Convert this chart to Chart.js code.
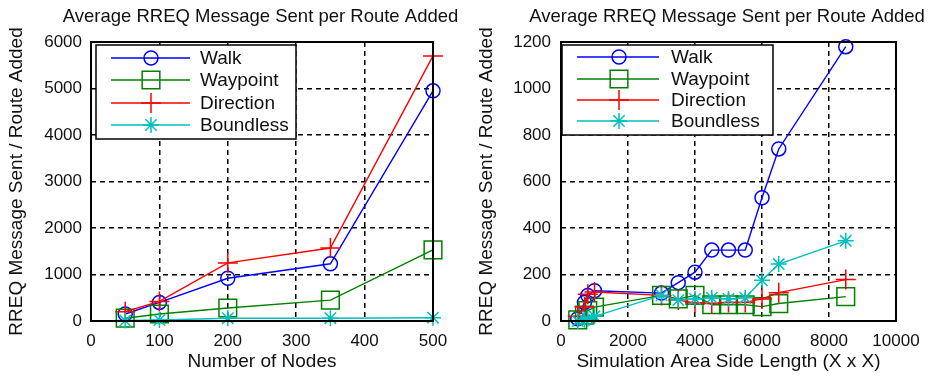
<!DOCTYPE html>
<html><head><meta charset="utf-8">
<script src="https://cdn.jsdelivr.net/npm/chart.js@4/dist/chart.umd.min.js"></script>
<style>
html,body{margin:0;padding:0;background:#fff;overflow:hidden}
#wrap{position:relative;width:934px;height:376px}
.c{position:absolute;top:0;width:467px;height:376px}
</style></head><body>
<div id="wrap">
<div class="c" style="left:0"><canvas id="c1" width="467" height="376"></canvas></div>
<div class="c" style="left:467px"><canvas id="c2" width="467" height="376"></canvas></div>
</div>
<script>
// ---- data ----
const seriesNames = ['Walk', 'Waypoint', 'Direction', 'Boundless'];
const chartTitle = 'Average RREQ Message Sent per Route Added';
const yAxisTitle = 'RREQ Message Sent / Route Added';

const nodesX = [50, 100, 200, 350, 500];
const nodesWalk = [150, 400, 920, 1230, 4950];
const nodesWaypoint = [60, 150, 280, 450, 1530];
const nodesDirection = [200, 420, 1250, 1570, 5700];
const nodesBoundless = [10, 20, 60, 60, 70];
const nodesXTitle = 'Number of Nodes';

const areaX = [500, 700, 800, 1000, 3000, 3500, 4000, 4500, 5000, 5500, 6000, 6500, 8500];
const areaWalk = [10, 80, 110, 130, 120, 165, 210, 305, 305, 305, 530, 740, 1180];
const areaWaypoint = [5, 25, 45, 60, 110, 95, 110, 70, 70, 70, 62, 75, 105];
const areaDirection = [20, 60, 115, 125, 110, 90, 78, 75, 80, 80, 95, 122, 178];
const areaBoundless = [0, 5, 10, 20, 110, 90, 95, 100, 95, 100, 175, 245, 345];
const areaXTitle = 'Simulation Area Side Length (X x X)';

// ---- styles ----
const FONT = "'Liberation Sans', Arial, sans-serif";
const colors = ['#0000ff', '#008000', '#ff0000', '#00bfbf'];
const styles = ['circle', 'rect', 'cross', 'star'];
const radii = [7, 12.5, 10, 8];

function pts(xs, ys) { return xs.map((x, i) => ({x: x, y: ys[i]})); }

function makeDatasets(xs, seriesList) {
  return seriesList.map((ys, i) => ({
    label: seriesNames[i],
    data: pts(xs, ys),
    borderColor: colors[i],
    backgroundColor: 'rgba(0,0,0,0)',
    pointBorderColor: colors[i],
    pointBackgroundColor: 'rgba(0,0,0,0)',
    pointStyle: styles[i],
    pointRadius: radii[i],
    pointBorderWidth: 1.5,
    borderWidth: 1.4,
    tension: 0,
    clip: false,
    order: 4 - i
  }));
}

const matlabPlugin = {
  id: 'matlab',
  afterDatasetsDraw(chart, args, o) {
    const ctx = chart.ctx, a = chart.chartArea, L = o.legend;
    ctx.save();
    // legend box
    ctx.fillStyle = '#fff';
    ctx.fillRect(L.x, L.y, L.w, L.h);
    ctx.strokeStyle = '#000'; ctx.lineWidth = 1.5;
    ctx.strokeRect(L.x, L.y, L.w, L.h);
    ctx.font = '19px ' + FONT;
    ctx.textBaseline = 'middle'; ctx.textAlign = 'left';
    chart.data.datasets.forEach((ds, i) => {
      const y = L.rows[i];
      ctx.strokeStyle = ds.borderColor; ctx.lineWidth = 1.5;
      ctx.beginPath(); ctx.moveTo(L.l0, y); ctx.lineTo(L.l1, y); ctx.stroke();
      ctx.fillStyle = 'rgba(0,0,0,0)';
      Chart.helpers.drawPoint(ctx, {pointStyle: ds.pointStyle, radius: ds.pointRadius, borderWidth: 1.5, rotation: 0}, L.m, y);
      ctx.fillStyle = '#111';
      ctx.fillText(ds.label, L.tx, y + 1);
    });
    // axes box
    ctx.strokeStyle = '#000'; ctx.lineWidth = 2;
    ctx.strokeRect(a.left, a.top, a.right - a.left, a.bottom - a.top);
    // title
    ctx.fillStyle = '#111';
    ctx.font = '18.5px ' + FONT;
    ctx.textAlign = 'center'; ctx.textBaseline = 'middle';
    ctx.fillText(o.title, (a.left + a.right) / 2 - 1.5, 17);
    ctx.restore();
  }
};

function makeChart(id, xs, seriesList, cfg) {
  return new Chart(document.getElementById(id), {
    type: 'line',
    data: { datasets: makeDatasets(xs, seriesList) },
    options: {
      responsive: false, animation: false, devicePixelRatio: 1, events: [],
      layout: { padding: { top: 42, right: cfg.padRight, left: 0, bottom: 0 } },
      plugins: {
        legend: { display: false }, tooltip: { enabled: false }, title: { display: false },
        matlab: { legend: cfg.legend, title: chartTitle }
      },
      scales: {
        x: {
          type: 'linear', min: cfg.xmin, max: cfg.xmax,
          ticks: { stepSize: cfg.xstep, color: '#111', font: { family: FONT, size: 17 }, padding: 10, maxRotation: 0, autoSkip: false, callback: v => String(v) },
          grid: { color: '#000', lineWidth: 1.5, drawTicks: false },
          border: { display: false, dash: [5, 4] },
          title: { display: true, text: cfg.xTitle, color: '#111', font: { family: FONT, size: 19 }, padding: { top: 0, bottom: 3 } },
          afterFit(s) { s.height = 55; }
        },
        y: {
          type: 'linear', min: cfg.ymin, max: cfg.ymax,
          ticks: { stepSize: cfg.ystep, color: '#111', font: { family: FONT, size: 17 }, padding: cfg.yTickPad, callback: v => String(v) },
          grid: { color: '#000', lineWidth: 1.5, drawTicks: false },
          border: { display: false, dash: [5, 4] },
          title: { display: true, text: yAxisTitle, color: '#111', font: { family: FONT, size: 19 }, padding: { top: cfg.yTitlePad, bottom: 0 } },
          afterFit(s) { s.width = cfg.yWidth; }
        }
      }
    },
    plugins: [matlabPlugin]
  });
}

makeChart('c1', nodesX, [nodesWalk, nodesWaypoint, nodesDirection, nodesBoundless], {
  xmin: 0, xmax: 500, xstep: 100, ymin: 0, ymax: 6000, ystep: 1000,
  xTitle: nodesXTitle, padRight: 34, yWidth: 91, yTickPad: 9, yTitlePad: 5,
  legend: { x: 96, y: 45, w: 200, h: 94, rows: [58, 80, 103, 125], l0: 111, l1: 190, m: 151, tx: 200 }
});

makeChart('c2', areaX, [areaWalk, areaWaypoint, areaDirection, areaBoundless], {
  xmin: 0, xmax: 10000, xstep: 2000, ymin: 0, ymax: 1200, ystep: 200,
  xTitle: areaXTitle, padRight: 38, yWidth: 94, yTickPad: 10, yTitlePad: 8,
  legend: { x: 95, y: 45, w: 211, h: 90, rows: [57, 79, 100, 121], l0: 110, l1: 192, m: 152, tx: 204 }
});
</script>
</body></html>
